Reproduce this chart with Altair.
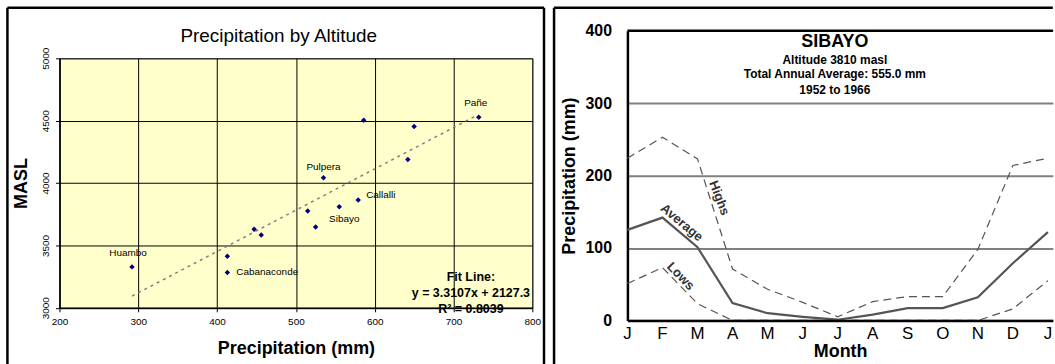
import altair as alt
import pandas as pd

# ---------------- Left panel: Precipitation by Altitude ----------------
station_names = ["Huambo", "", "Cabanaconde", "", "", "", "", "Sibayo", "Callalli",
                 "Pulpera", "", "", "", "Pañe"]
station_precip = [292, 413, 413, 447, 456, 515, 525, 555, 579, 535, 586, 650, 642, 732]
station_alt = [3328, 3413, 3283, 3629, 3584, 3776, 3648, 3810, 3864, 4043, 4504, 4453, 4189, 4528]
fit_precip = [292, 730]
fit_alt = [3094, 4544]
fit_text = ["Fit Line:", "y = 3.3107x + 2127.3", "R² = 0.8039"]
left_title = "Precipitation by Altitude"
x_ticks_left = [200, 300, 400, 500, 600, 700, 800]
y_ticks_left = [3000, 3500, 4000, 4500, 5000]

# ---------------- Right panel: SIBAYO monthly precipitation ----------------
month_letters = ["J", "F", "M", "A", "M", "J", "J", "A", "S", "O", "N", "D", "J"]
avg_mm = [125, 142, 101, 24, 10, 5, 1, 8, 17, 17, 32, 79, 122]
high_mm = [224, 253, 223, 71, 43, 25, 5, 26, 33, 33, 98, 214, 224]
low_mm = [51, 73, 23, 0, 0, 0, 0, 0, 0, 0, 0, 16, 55]
box_lines = ["SIBAYO", "Altitude 3810 masl", "Total Annual Average: 555.0 mm", "1952 to 1966"]
y_ticks_right = [0, 100, 200, 300, 400]

FONT = "Liberation Sans"
one = pd.DataFrame({"k": [0]})

# ======================= LEFT CHART =======================
LW, LH = 475, 250.6
left_df = pd.DataFrame({"station": station_names, "precip": station_precip, "alt": station_alt})
fit_df = pd.DataFrame({"precip": fit_precip, "alt": fit_alt})

xL = alt.X("precip:Q", scale=alt.Scale(domain=[200, 800], nice=False, zero=False),
           axis=alt.Axis(values=x_ticks_left, title="Precipitation (mm)", format="d",
                         labelFontSize=10, labelColor="black", tickSize=4, tickColor="black",
                         labelPadding=5, labelFlush=False, domainColor="black", domainWidth=1.5,
                         grid=True, gridColor="black", gridWidth=1, gridOpacity=1,
                         titleFontSize=18, titleFontWeight="bold", titleColor="black",
                         titlePadding=13))
yL = alt.Y("alt:Q", scale=alt.Scale(domain=[3000, 5000], nice=False, zero=False),
           axis=alt.Axis(values=y_ticks_left, title="MASL", format="d", labelAngle=270,
                         labelFontSize=10, labelColor="black", tickSize=4, tickColor="black",
                         labelPadding=5, labelFlush=False, domainColor="black", domainWidth=1.5,
                         grid=True, gridColor="black", gridWidth=1, gridOpacity=1,
                         titleFontSize=18, titleFontWeight="bold", titleColor="black",
                         titlePadding=10))

fit_line = alt.Chart(fit_df).mark_line(color="#808080", strokeWidth=1.5,
                                       strokeDash=[3, 4]).encode(x=xL, y=yL)
points = alt.Chart(left_df).mark_point(shape="diamond", filled=True, color="#000080",
                                       size=30, opacity=1).encode(x=xL, y=yL)


def station_label(name, dx, dy, align):
    return (alt.Chart(left_df)
            .transform_filter(alt.datum.station == name)
            .mark_text(align=align, baseline="middle", dx=dx, dy=dy, fontSize=10,
                       color="black")
            .encode(x=xL, y=yL, text="station:N"))


labels = [
    station_label("Huambo", -4, -14, "center"),
    station_label("Cabanaconde", 9, 0, "left"),
    station_label("Pulpera", 0, -11, "center"),
    station_label("Callalli", 8, -5, "left"),
    station_label("Sibayo", 5, 12, "center"),
    station_label("Pañe", -3, -14, "center"),
]

fit_note = alt.Chart(pd.DataFrame({"t": ["\n".join(fit_text)]})).mark_text(
    align="center", baseline="middle", fontSize=12.5, fontWeight="bold",
    color="black", lineBreak="\n", lineHeight=16
).encode(x=alt.datum(722), y=alt.datum(3249), text="t:N")

title_mark = alt.Chart(one).mark_text(
    text=left_title, fontSize=19, color="black", align="center", baseline="middle"
).encode(x=alt.value(220.2), y=alt.value(-22.7))

lborder = alt.Chart(one).mark_rule(color="black", strokeWidth=2.5)
l_top = lborder.encode(x=alt.value(-52.3), x2=alt.value(486.7), y=alt.value(-50.7))
l_left = lborder.encode(x=alt.value(-52.3), y=alt.value(-50.7), y2=alt.value(307.3))
l_right = lborder.encode(x=alt.value(486.7), y=alt.value(-50.7), y2=alt.value(307.3))

left = alt.layer(fit_line, points, *labels, fit_note, title_mark,
                 l_top, l_left, l_right).properties(
    width=LW, height=LH,
    view=alt.ViewBackground(fill="#FFFFCC", stroke="#808080", strokeWidth=1),
)

# ======================= RIGHT CHART =======================
# plot area top aligned with the left one (y=56.7); values range reaches up to y=29
RW, RH = 427.3, 263.3
R_TOP = -27.7
n = len(month_letters)
right_df = pd.DataFrame({
    "m": list(range(n)) * 3,
    "mm": avg_mm + high_mm + low_mm,
    "series": ["Average"] * n + ["Highs"] * n + ["Lows"] * n,
})
month_df = pd.DataFrame({"m": list(range(n)), "letter": month_letters})

xR = alt.X("m:Q", scale=alt.Scale(domain=[0, 12.14], nice=False, zero=False),
           axis=alt.Axis(values=list(range(n)), labels=False, title="Month",
                         ticks=False, tickSize=0, grid=False, zindex=1,
                         domainColor="black", domainWidth=2.5,
                         titleFontSize=18, titleFontWeight="bold", titleColor="black",
                         titlePadding=22))
yR = alt.Y("mm:Q", scale=alt.Scale(domain=[0, 400], nice=False, range=[RH, R_TOP]),
           axis=alt.Axis(values=y_ticks_right, title="Precipitation (mm)",
                         labelFontSize=16, labelFontWeight="bold", labelColor="black",
                         labelPadding=16, ticks=False, tickSize=0, labelFlush=False,
                         labelOverlap=False,
                         domainColor="black", domainWidth=2.5,
                         grid=True, gridColor="#808080", gridWidth=2, gridOpacity=1,
                         titleFontSize=18, titleFontWeight="bold", titleColor="black",
                         titlePadding=6))

base_r = alt.Chart(right_df)
avg_line = base_r.transform_filter(alt.datum.series == "Average").mark_line(
    color="#555555", strokeWidth=2.2).encode(x=xR, y=yR)
high_line = base_r.transform_filter(alt.datum.series == "Highs").mark_line(
    color="#555555", strokeWidth=1.2, strokeDash=[8, 5]).encode(x=xR, y=yR)
low_line = base_r.transform_filter(alt.datum.series == "Lows").mark_line(
    color="#555555", strokeWidth=1.2, strokeDash=[8, 5]).encode(x=xR, y=yR)

month_marks = alt.Chart(month_df).mark_text(
    fontSize=17, color="black", align="center", baseline="middle"
).encode(x=xR, y=alt.value(RH + 13.5), text="letter:N")


def line_label(txt, mx, my, ang):
    return alt.Chart(one).mark_text(text=txt, angle=ang, fontSize=13, fontWeight="bold",
                                    color="#333333", align="center", baseline="middle"
                                    ).encode(x=alt.datum(mx), y=alt.datum(my))


line_labels = [
    line_label("Highs", 2.62, 169, 69),
    line_label("Average", 1.55, 135, 40),
    line_label("Lows", 1.52, 61, 46),
]

box_sizes = [18, 12, 12, 12]
box_y = [385, 360, 340, 318.5]
box_marks = [
    alt.Chart(one).mark_text(text=t, fontSize=s, fontWeight="bold", color="black",
                             align="center", baseline="middle"
                             ).encode(x=alt.datum(5.92), y=alt.datum(yy))
    for t, s, yy in zip(box_lines, box_sizes, box_y)
]

top_frame = alt.Chart(one).mark_rule(color="black", strokeWidth=2.5).encode(
    x=alt.value(0), x2=alt.value(RW), y=alt.value(R_TOP))
rborder = alt.Chart(one).mark_rule(color="black", strokeWidth=2.5)
r_top = rborder.encode(x=alt.value(-73.7), x2=alt.value(RW), y=alt.value(-50.7))
r_left = rborder.encode(x=alt.value(-73.7), y=alt.value(-50.7), y2=alt.value(307.3))

right = alt.layer(high_line, low_line, avg_line, month_marks, *line_labels, *box_marks,
                  top_frame, r_top, r_left).properties(
    width=RW, height=RH,
    view=alt.ViewBackground(fill="white", stroke="transparent", strokeWidth=0),
)

chart = alt.hconcat(left, right, spacing=6.5).properties(
    padding={"left": 4.75, "top": 4.75, "right": 0, "bottom": 0}
).configure(font=FONT).configure_view(stroke="transparent")

chart.save("out.html", embed_options={"renderer": "svg", "actions": False})
